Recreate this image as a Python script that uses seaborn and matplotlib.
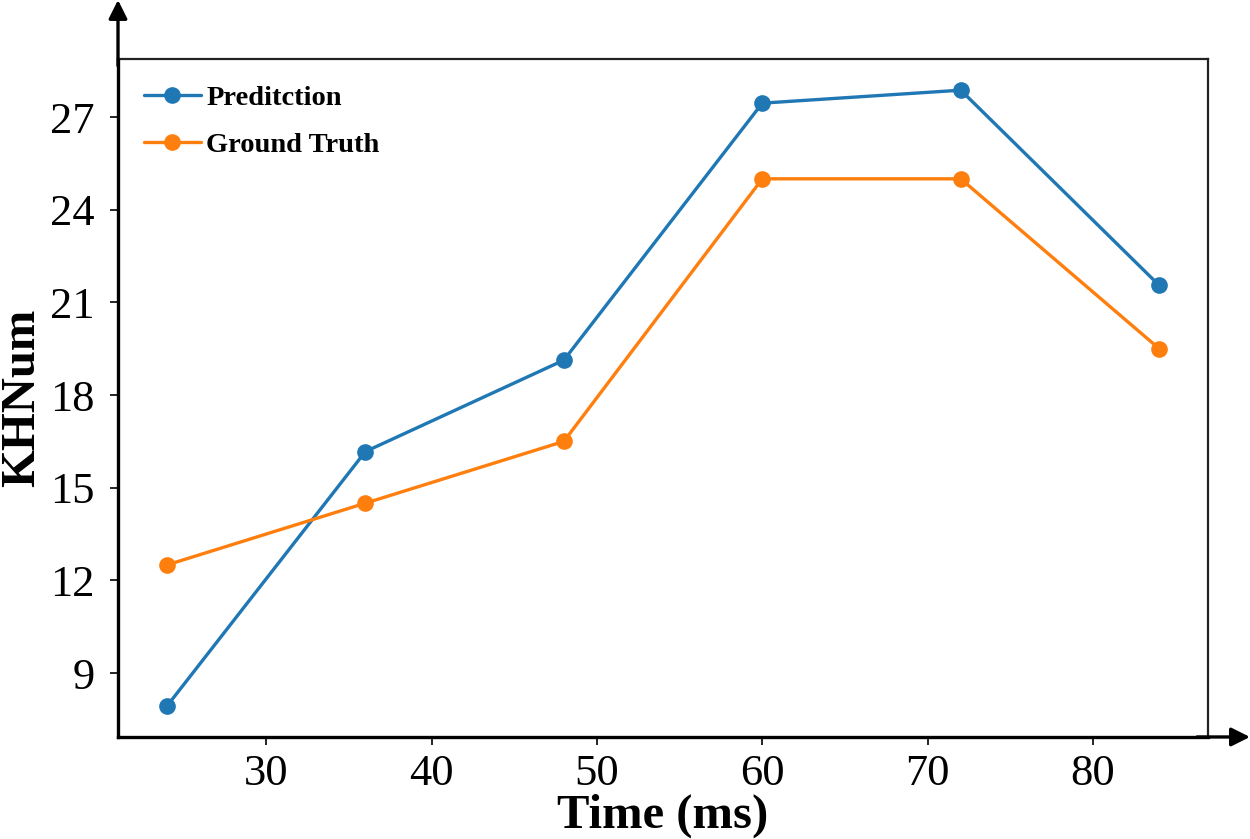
import matplotlib
matplotlib.use("Agg")
import matplotlib.pyplot as plt
import seaborn as sns
import pandas as pd

# Measurements over time
time_ms = [24, 36, 48, 60, 72, 84]
prediction = [7.93, 16.17, 19.13, 27.45, 27.87, 21.55]
ground_truth = [12.5, 14.5, 16.5, 25.0, 25.0, 19.5]
series_names = ["Preditction", "Ground Truth"]
x_ticks = [30, 40, 50, 60, 70, 80]
y_ticks = [9, 12, 15, 18, 21, 24, 27]

df = pd.DataFrame({
    "Time": time_ms * 2,
    "KHNum": prediction + ground_truth,
    "Series": [series_names[0]] * len(time_ms) + [series_names[1]] * len(time_ms),
})

sns.set_style("white")
plt.rcParams["font.family"] = ["Liberation Serif", "DejaVu Serif"]
plt.rcParams["text.color"] = "black"
plt.rcParams["axes.labelcolor"] = "black"

fig = plt.figure(figsize=(12.5, 8.39), dpi=100)
ax = fig.add_axes([0.0944, 0.1216, 0.8720, 0.8081])

sns.lineplot(data=df, x="Time", y="KHNum", hue="Series", hue_order=series_names,
             palette=["#1f77b4", "#ff7f0e"], marker="o", markersize=12,
             markeredgewidth=0, linewidth=2.4, ax=ax)

ax.set_xlim(21.04, 86.95)
ax.set_ylim(6.93, 28.88)
ax.set_xticks(x_ticks)
ax.set_yticks(y_ticks)
ax.tick_params(axis="both", direction="out", length=6, width=1.2,
               labelsize=32, colors="black", labelcolor="black", pad=6)
ax.tick_params(axis="y", pad=11)
ax.tick_params(axis="both", which="both", bottom=True, left=True)

for side in ["left", "bottom"]:
    ax.spines[side].set_linewidth(2.4)
    ax.spines[side].set_color("black")
for side in ["top", "right"]:
    ax.spines[side].set_linewidth(1.6)
    ax.spines[side].set_color("#222222")

# Arrowed extensions of the two main axes
ax.annotate("", xy=(0, 1.087), xytext=(0, 0.99), xycoords="axes fraction",
            arrowprops=dict(arrowstyle="-|>", lw=2.4, color="black",
                            mutation_scale=28, shrinkA=0, shrinkB=0),
            annotation_clip=False)
ax.annotate("", xy=(1.0385, 0), xytext=(0.99, 0), xycoords="axes fraction",
            arrowprops=dict(arrowstyle="-|>", lw=2.4, color="black",
                            mutation_scale=28, shrinkA=0, shrinkB=0),
            annotation_clip=False)

ax.set_xlabel("Time (ms)", fontsize=35, fontweight="bold", labelpad=0, color="black")
ax.set_ylabel("KHNum", fontsize=35, fontweight="bold", labelpad=4, color="black")

leg = ax.legend(loc="upper left", frameon=False, handlelength=2.0,
                handletextpad=0.2, labelspacing=0.75,
                prop={"family": "Liberation Serif", "weight": "bold", "size": 20.5},
                borderaxespad=0.5)
for t in leg.get_texts():
    t.set_color("black")

fig.savefig("out.png", dpi=100)
